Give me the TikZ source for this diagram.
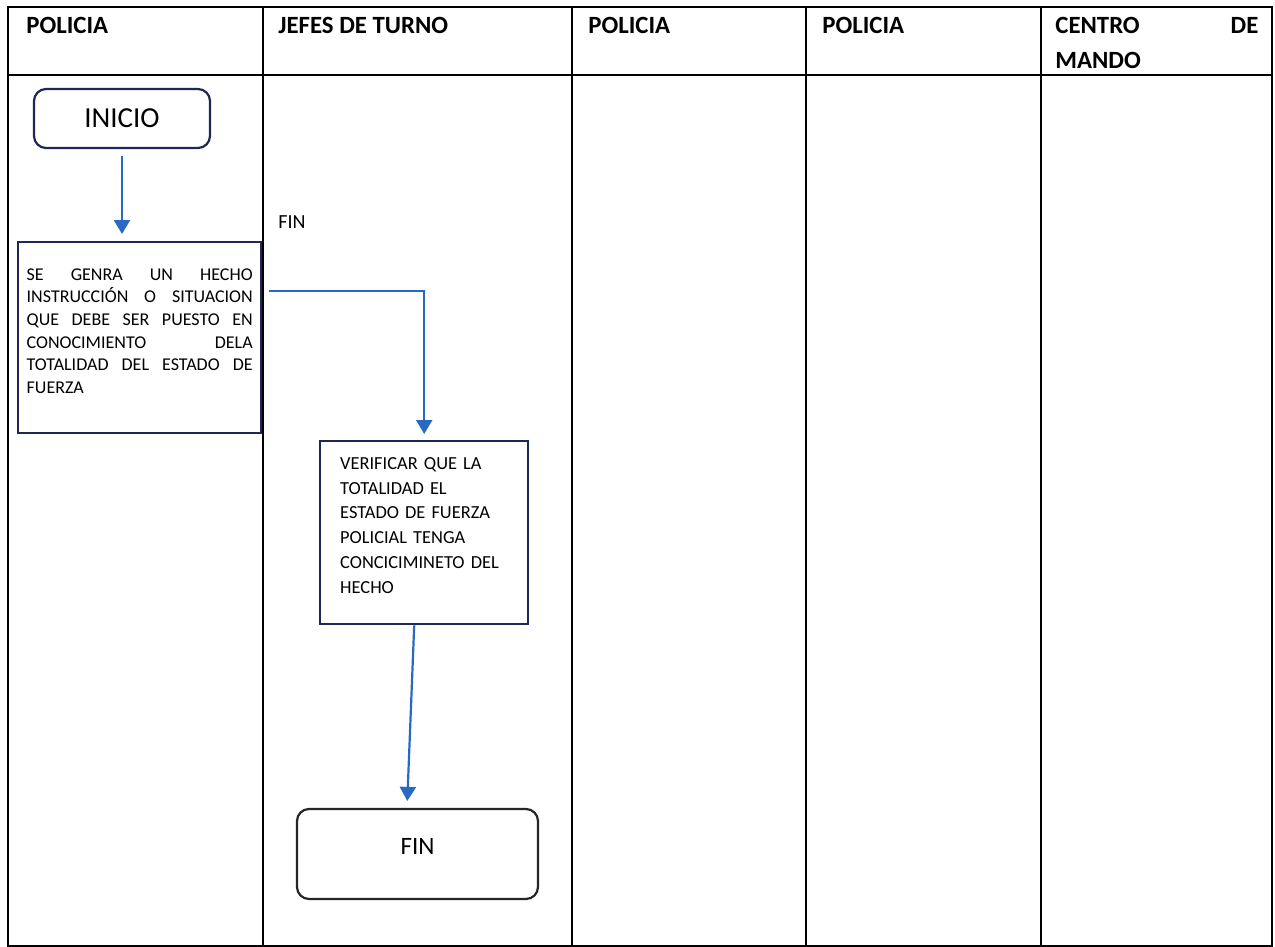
\documentclass[tikz,border=0pt]{standalone}
\usepackage{fontspec}
\setmainfont{Carlito}
\usepackage{xcolor}
\usetikzlibrary{positioning, arrows.meta}
\definecolor{boxnavy}{RGB}{30,40,85}
\definecolor{flowblue}{RGB}{40,105,195}

\begin{document}
\begin{tikzpicture}[
    x=0.5pt, y=-0.5pt,
    lane/.style={draw=black, line width=0.8pt},
    header/.style={anchor=base west, inner sep=0pt, font=\fontsize{12.4}{17.5}\selectfont\bfseries},
    term/.style={rectangle, rounded corners=6pt, draw=boxnavy, line width=1.1pt},
    proc/.style={rectangle, draw=boxnavy, line width=1.2pt, anchor=north west, inner ysep=0pt},
    arrow/.style={-{Triangle[width=8pt,length=7pt]}, draw=flowblue, line width=1.1pt}
]
    \useasboundingbox (0,0) rectangle (1275,947);

    % swimlanes
    \draw [lane] (8,7) rectangle (1272,946);
    \draw [lane] (8,75) -- (1272,75);
    \foreach \x in {263,572,806,1041}
        \draw [lane] (\x,7) -- (\x,946);

    \node [header] (h1) at (26,34) {POLICIA};
    \node [header] (h2) at (278,34) {JEFES DE TURNO};
    \node [header] (h3) at (588,34) {POLICIA};
    \node [header] (h4) at (822,34) {POLICIA};
    \node [header, text width=101.5pt, align=left] (h5) at (1055,34) {CENTRO\hfill DE\\MANDO};

    % flow
    \node [term, minimum width=88pt, minimum height=29.5pt, font=\fontsize{14.5}{16}\selectfont] (inicio) at (122,118.5) {INICIO};
    \node [proc, text width=113pt, inner xsep=4.25pt, text height=19pt, text depth=76.5pt, align=justify,
           font=\fontsize{9}{11.35}\selectfont] (hecho) at (17,241)
        {SE GENRA UN HECHO\linebreak INSTRUCCIÓN O SITUACION\linebreak QUE DEBE SER PUESTO EN\linebreak CONOCIMIENTO DELA\linebreak TOTALIDAD DEL ESTADO DE\linebreak FUERZA};
    \node [font=\fontsize{10}{12}\selectfont, anchor=base west, inner sep=0pt] (finlbl) at (278,228) {FIN};
    \node [proc, text width=84pt, inner xsep=10pt, text height=14pt, text depth=77.5pt, align=left,
           font=\fontsize{9.2}{12.4}\selectfont] (verif) at (319,440)
        {VERIFICAR QUE LA\\TOTALIDAD EL\\ESTADO DE FUERZA\\POLICIAL TENGA\\CONCICIMINETO DEL\\HECHO};
    \node [term, draw=black!85, minimum width=120.5pt, minimum height=45pt, text height=8pt, text depth=8pt,
           font=\fontsize{12.5}{15}\selectfont] (fin) at (417.5,854) {FIN};

    \draw [arrow, shorten <=3.5pt, shorten >=3.5pt] (inicio.south) -- (inicio.south |- hecho.north);
    \draw [arrow, shorten >=3pt] ([xshift=3.5pt,yshift=-25pt]hecho.north east) -| (verif.north);
    \draw [arrow, shorten >=3.5pt] ([xshift=-5pt]verif.south) -- ([xshift=-5.25pt]fin.north);
\end{tikzpicture}
\end{document}
